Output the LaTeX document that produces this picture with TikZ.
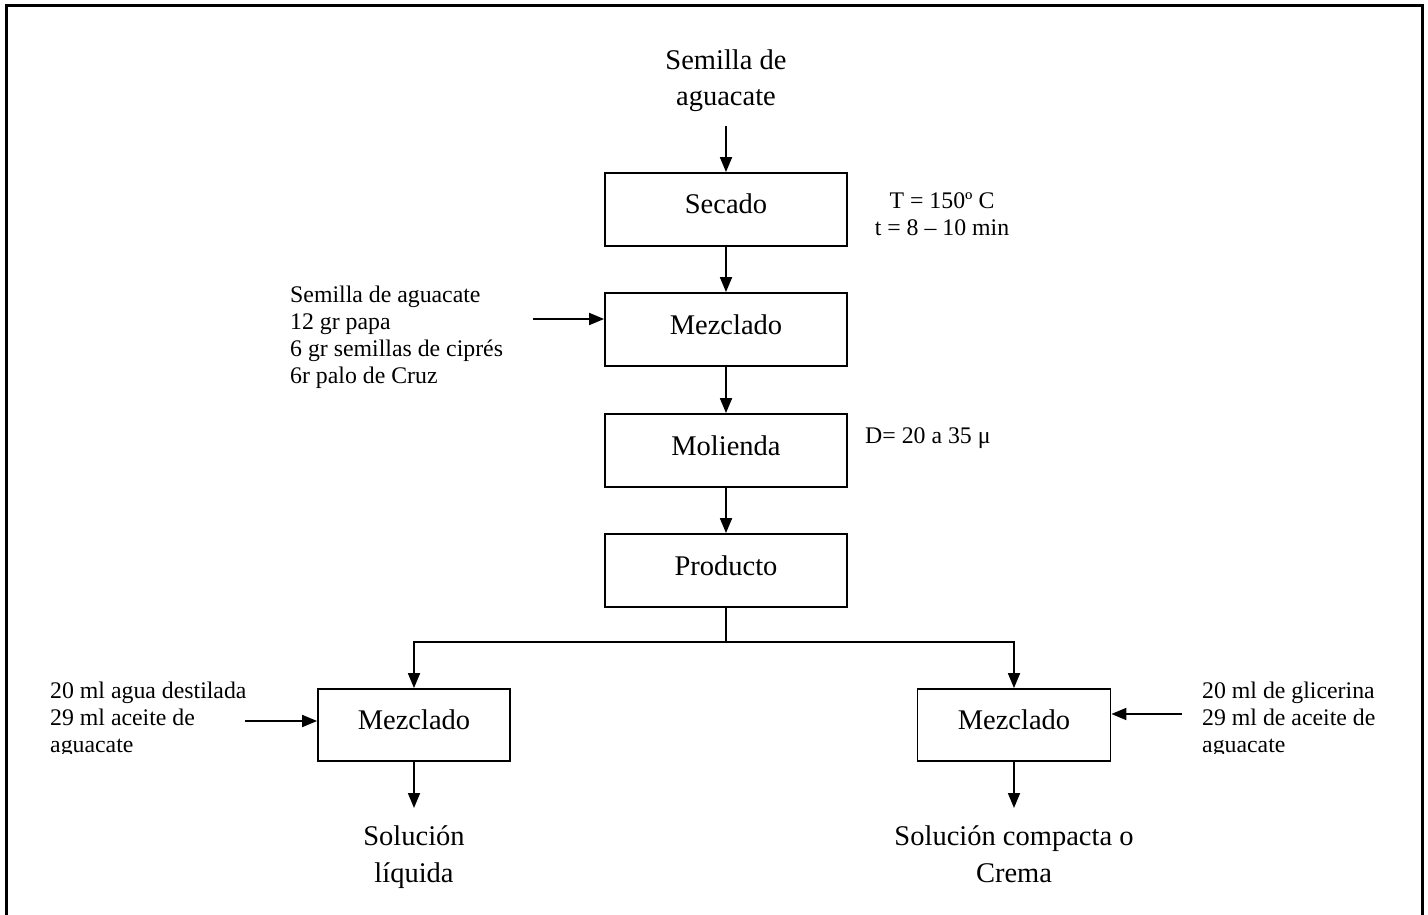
\documentclass[tikz,border=0pt]{standalone}
\usepackage{fontspec}
\setmainfont{Liberation Serif}
\usetikzlibrary{arrows.meta}
\begin{document}
\begin{tikzpicture}[x=1pt,y=-1pt,
  procbox/.style={draw,line width=1.8pt,minimum height=73pt,inner sep=0pt,text height=24pt,text depth=15pt,font=\fontsize{28.5}{37}\selectfont},
  bigtxt/.style={inner sep=0pt,align=center,font=\fontsize{28.5}{36.5}\selectfont},
  smalltxt/.style={inner sep=0pt,font=\fontsize{23.8}{27}\selectfont},
  arr/.style={line width=1.8pt,-{Triangle[length=15pt,width=12pt]}},
  conn/.style={line width=1.8pt}]
\useasboundingbox (0,0) rectangle (1428,915);
\clip (0,0) rectangle (1428,915);
\draw[line width=3pt] (6,6) rectangle (1422,960);

% process boxes
\node[procbox,minimum width=242pt] (secado) at (726,209.5) {Secado};
\node[procbox,minimum width=242pt] (mez1) at (726,329.5) {Mezclado};
\node[procbox,minimum width=242pt] (molienda) at (726,450.5) {Molienda};
\node[procbox,minimum width=242pt] (producto) at (726,570.5) {Producto};
\node[procbox,minimum width=192pt,minimum height=72pt] (mezL) at (414,725) {Mezclado};
\node[procbox,minimum width=193pt,minimum height=72pt] (mezR) at (1014,725) {Mezclado};

% texts (base anchor = baseline of last line)
\node[bigtxt,anchor=base] (topl) at (726,106) {Semilla de\\aguacate};
\node[smalltxt,align=center,anchor=base] (cond) at (942,235) {T = 150º C\\t = 8 – 10 min};
\node[smalltxt,align=left,anchor=base west] (ing1) at (290,383) {Semilla de aguacate\\12 gr papa\\6 gr semillas de ciprés\\6r palo de Cruz};
\node[smalltxt,anchor=base west] (diam) at (865,443) {D= 20 a 35 μ};
\begin{scope}
\clip (0,0) rectangle (1428,753);
\node[smalltxt,align=left,anchor=base west] (ingL) at (50,752) {20 ml agua destilada\\29 ml aceite de\\aguacate};
\node[smalltxt,align=left,anchor=base west] (ingR) at (1202,752) {20 ml de glicerina\\29 ml de aceite de\\aguacate};
\end{scope}
\node[bigtxt,anchor=base] (solL) at (414,882) {Solución\\líquida};
\node[bigtxt,anchor=base] (solR) at (1014,882) {Solución compacta o\\Crema};

% connectors
\coordinate (a0) at (726,126);
\draw[arr] (a0) -- (secado.north);
\draw[arr] (secado.south) -- (mez1.north);
\coordinate (in1) at (533,319);
\draw[arr] (in1) -- (in1 -| mez1.west);
\draw[arr] (mez1.south) -- (molienda.north);
\draw[arr] (molienda.south) -- (producto.north);
\coordinate (br) at (726,642);
\draw[conn] (producto.south) -- (br);
\draw[arr] (br) -| (mezL.north);
\draw[arr] (br) -| (mezR.north);
\coordinate (inL) at (245,721);
\draw[arr] (inL) -- (inL -| mezL.west);
\coordinate (inR) at (1182,714);
\draw[arr] (inR) -- (inR -| mezR.east);
\coordinate (outL) at (414,808);
\coordinate (outR) at (1014,808);
\draw[arr] (mezL.south) -- (outL);
\draw[arr] (mezR.south) -- (outR);
\end{tikzpicture}
\end{document}
